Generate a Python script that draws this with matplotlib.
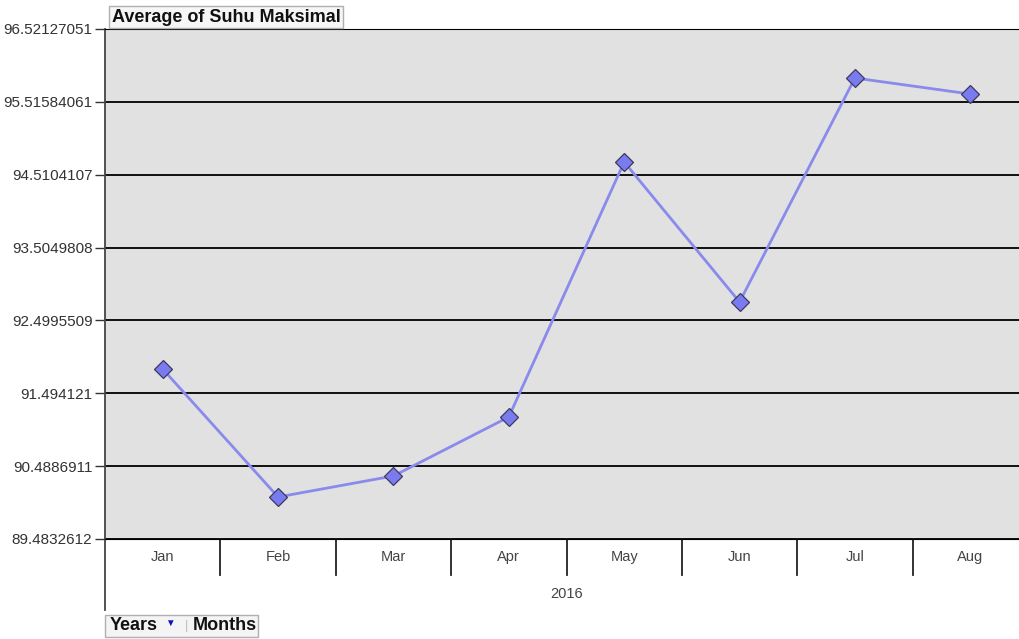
import matplotlib.pyplot as plt

months = ['Jan', 'Feb', 'Mar', 'Apr', 'May', 'Jun', 'Jul', 'Aug']
suhu_maks = [91.829, 90.063, 90.353, 91.167, 94.686, 92.754, 95.845, 95.624]
y_ticks = [89.4832612, 90.4886911, 91.494121, 92.4995509, 93.5049808,
           94.5104107, 95.51584061, 96.52127051]
y_labels = ['89.4832612', '90.4886911', '91.494121', '92.4995509', '93.5049808',
            '94.5104107', '95.51584061', '96.52127051']
year_label = '2016'

plt.rcParams['font.family'] = ['Liberation Sans', 'DejaVu Sans']

W, H = 1019, 639
fig = plt.figure(figsize=(W / 100, H / 100), dpi=100)
fig.patch.set_facecolor('white')

left, right, top, bottom = 105, 1028, 29, 539
ax = fig.add_axes([left / W, 1 - bottom / H, (right - left) / W, (bottom - top) / H])
ax.set_facecolor('#e1e1e1')

x = list(range(len(months)))
ax.plot(x, suhu_maks, color='#8a8aec', lw=2, marker='D', markersize=9,
        markerfacecolor='#7b7bf0', markeredgecolor='#3a3a60', markeredgewidth=0.9, zorder=3)

ax.set_xlim(-0.5, len(months) - 0.5)
ax.set_ylim(y_ticks[0], y_ticks[-1])
ax.set_yticks(y_ticks)
ax.set_yticklabels(y_labels, fontsize=11, color='#333333')
for yv in y_ticks:
    ax.axhline(yv, color='black', lw=1.3, zorder=1)

ax.set_xticks(x)
ax.set_xticklabels(months, fontsize=10.5, color='#444444')
ax.tick_params(axis='x', length=0, pad=8)
ax.tick_params(axis='y', length=7, width=1, color='#333333', pad=2)

ax.spines['right'].set_visible(False)
ax.spines['top'].set_color('black')
ax.spines['bottom'].set_color('black')
ax.spines['left'].set_color('#444444')
ax.spines['left'].set_linewidth(1.3)

axh = bottom - top
# category dividers
xt = ax.get_xaxis_transform()
for i in range(len(months) - 1):
    ax.plot([i + 0.5, i + 0.5], [0, -36 / axh], transform=xt, color='#222222', lw=1.3, clip_on=False)
# left axis line extends below
ax.plot([0, 0], [0, -(610 - bottom) / axh], transform=ax.transAxes, color='#444444', lw=1.3, clip_on=False)
ax.text((len(months) - 1) / 2, -(594 - bottom) / axh, year_label, transform=xt,
        ha='center', va='center', fontsize=10.5, color='#444444')

fig.text(112 / W, 1 - 17 / H, 'Average of Suhu Maksimal', ha='left', va='center',
         fontsize=13, fontweight='bold', color='#111111',
         bbox=dict(boxstyle='square,pad=0.15', facecolor='#f6f6f6', edgecolor='#b0b0b0', lw=1))

fig.text(110 / W, 1 - 626 / H, 'Years', ha='left', va='center',
         fontsize=13, fontweight='bold', color='#111111')
fig.text(170 / W, 1 - 623 / H, '\u25bc', ha='center', va='center', fontsize=7, color='#1010c0')
fig.text(186 / W, 1 - 626 / H, '|', ha='center', va='center', fontsize=9, color='#bbbbbb')
fig.text(193 / W, 1 - 626 / H, 'Months', ha='left', va='center',
         fontsize=13, fontweight='bold', color='#111111')
fig.patches.append(plt.Rectangle((105 / W, 1 - 637 / H), 153 / W, 22 / H, transform=fig.transFigure,
                                 facecolor='#f4f4f4', edgecolor='#b0b0b0', lw=1, zorder=-1))

fig.savefig('out.png', dpi=100)
